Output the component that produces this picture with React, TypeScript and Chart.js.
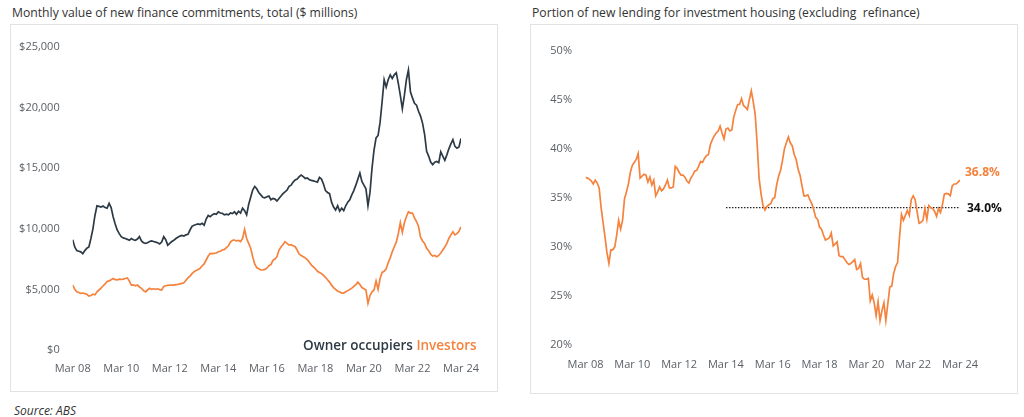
import React, { useEffect, useRef } from "react";
import { Chart, registerables } from "chart.js";

Chart.register(...registerables);

// ---------- DATA ----------
const tickLabels = ["Mar 08", "Mar 10", "Mar 12", "Mar 14", "Mar 16", "Mar 18", "Mar 20", "Mar 22", "Mar 24"];

// Monthly, Mar 2008 .. Mar 2024 ($ millions)
const ownerOccupiers = [
  9100, 8500, 8200, 8150, 8100, 7950, 8200, 8400, 8500, 9200, 10000, 11100,
  11900, 11850, 11800, 11880, 11750, 11700, 12100, 11750, 11000, 10400, 9900, 9600,
  9350, 9250, 9200, 9130, 9050, 9200, 9100, 9050, 9150, 9350, 9000, 8850,
  8800, 8850, 8950, 9000, 8950, 8900, 8850, 8750, 8900, 9350, 9100, 8650,
  8800, 8950, 9050, 9200, 9300, 9400, 9450, 9400, 9500, 9550, 9900, 10200,
  10300, 10350, 10400, 10350, 10450, 10300, 10800, 11100, 11000, 11150, 11250, 11200,
  11400, 11300, 11280, 11150, 11200, 11150, 11300, 11250, 11400, 11200, 11450, 11300,
  11700, 11500, 11150, 12000, 12600, 13200, 13500, 13300, 13000, 12800, 12600, 12550,
  12650, 12700, 12400, 12500, 12450, 12300, 12500, 12700, 12900, 13050, 13200, 13500,
  13600, 13850, 14025, 14100, 14300, 14440, 14300, 14150, 14200, 14050, 14000, 13950,
  13900, 13850, 14240, 14100, 13700, 13150, 13000, 12900, 12200, 11800, 11550, 11900,
  11450, 11700, 11500, 11900, 12200, 12400, 12800, 13150, 13600, 14100, 14600, 13900,
  13600, 13300, 11900, 13000, 15000, 16500, 17500, 17700, 18800, 20500, 22300, 21700,
  22300, 22700, 22400, 22700, 22880, 22000, 21000, 19900, 21000, 22300, 23100, 21300,
  20800, 20350, 20200, 19700, 19300, 18700, 17800, 16400, 16000, 15500, 15300, 15500,
  15550, 15450, 16350, 16000, 15650, 16100, 16600, 17000, 17350, 16800, 16650, 16750,
  17450,
];

const investors = [
  5360, 5000, 4800, 4750, 4680, 4700, 4650, 4600, 4450, 4500, 4600, 4550,
  4800, 4950, 5100, 5280, 5450, 5650, 5700, 5800, 5900, 5800, 5780, 5850,
  5830, 5850, 5900, 5950, 5700, 5350, 5380, 5300, 5360, 5200, 5090, 4900,
  4800, 4950, 5090, 5000, 5050, 5000, 5050, 4980, 4950, 5250, 5300, 5330,
  5360, 5350, 5360, 5400, 5420, 5450, 5500, 5550, 5750, 5950, 6100, 6300,
  6460, 6550, 6650, 6740, 6950, 7100, 7425, 7750, 7975, 7950, 7975, 8000,
  8110, 8150, 8250, 8300, 8450, 8600, 8900, 9050, 9075, 9000, 9050, 8950,
  9200, 9955, 9200, 8800, 8400, 7700, 7100, 6800, 6700, 6600, 6600, 6650,
  6750, 6950, 7050, 7400, 7500, 7700, 8250, 8500, 8700, 8935, 8800, 8660,
  8700, 8600, 8520, 8250, 7900, 7800, 7700, 7600, 7450, 7250, 7000, 6850,
  6700, 6500, 6400, 6300, 6150, 6000, 5800, 5600, 5350, 5150, 5000, 4850,
  4800, 4700, 4700, 4800, 4900, 5000, 5100, 5250, 5400, 5600, 5400, 5150,
  5050, 4950, 3850, 4500, 4800, 4950, 5700, 5000, 5900, 6400, 6500, 6700,
  7200, 7600, 8100, 8500, 8900, 9600, 10500, 9700, 10500, 11000, 11410, 11300,
  11300, 10900, 10600, 10200, 9300, 9000, 8800, 8400, 8200, 7900, 7750, 7800,
  7700, 7800, 8000, 8250, 8500, 8800, 9200, 9500, 9760, 9500, 9600, 9800,
  10170,
];

// Monthly investor share of new lending (%), Mar 2008 .. Mar 2024
const investorShare = [
  37.1, 37.0, 36.9, 36.7, 36.4, 36.8, 36.5, 36.0, 34.0, 32.5, 31.0, 29.4,
  28.3, 29.7, 29.7, 30.0, 31.2, 32.7, 31.8, 32.7, 34.9, 35.6, 36.4, 37.6,
  38.3, 38.6, 38.9, 39.5, 37.0, 37.2, 37.4, 37.3, 36.6, 37.1, 36.3, 36.8,
  35.2, 35.6, 36.1, 35.7, 35.9, 36.3, 36.8, 36.0, 36.0, 36.1, 38.2, 38.0,
  37.6, 37.3, 37.3, 37.1, 36.7, 36.5, 37.0, 37.3, 37.7, 37.8, 38.2, 38.7,
  38.6, 39.0, 39.3, 39.4, 40.4, 40.9, 41.3, 41.6, 41.8, 42.3, 41.6, 41.0,
  42.0, 42.1, 41.8, 41.9, 43.2, 43.9, 44.5, 44.5, 45.1, 44.4, 44.2, 44.0,
  45.0, 45.9, 44.8, 43.5, 40.5, 37.0, 35.4, 34.2, 33.75, 34.1, 34.3, 34.4,
  34.9, 35.0, 36.3, 37.2, 37.8, 38.8, 40.0, 40.6, 41.2, 40.6, 40.3, 39.4,
  38.9, 37.9, 37.3, 36.2, 35.2, 35.2, 35.3, 34.8, 34.4, 33.8, 33.0, 32.8,
  32.0, 31.8, 31.2, 30.7, 30.8, 30.9, 31.4, 30.1, 30.3, 30.5, 29.1, 29.0,
  29.0, 28.7, 28.4, 28.2, 28.3, 28.5, 28.7, 27.7, 27.8, 28.3, 26.9, 26.7,
  26.7, 26.8, 24.5, 25.1, 24.3, 23.0, 24.4, 22.5, 23.5, 24.3, 22.5, 24.2,
  25.9, 26.0, 27.3, 28.0, 28.4, 31.0, 33.3, 32.7, 33.2, 33.7, 33.2, 34.8,
  35.2, 34.8, 33.6, 32.4, 32.5, 32.7, 33.9, 32.8, 34.2, 34.0, 33.9, 33.6,
  33.1, 33.9, 33.5, 34.3, 35.4, 35.45, 35.4, 35.2, 36.2, 36.4, 36.4, 36.6,
  36.8,
];

const averageShare = 34.0;
const averageFromMonth = 72; // Mar 14
const averageToMonth = 192; // Mar 24
const latestShareLabel = "36.8%";
const averageShareLabel = "34.0%";

// ---------- STYLE ----------
const FONT = "'Open Sans', 'DejaVu Sans', sans-serif";
const ORANGE = "#f5823d";
const DARK = "#2c3a46";
const TICK = "#5b6066";

const toPoints = (arr: number[]) => arr.map((v, i) => ({ x: i, y: v }));

const xAxis = (pad: number, height: number) => ({
  type: "linear" as const,
  min: 0,
  max: 192,
  grid: { display: false, drawTicks: false },
  border: { display: false },
  ticks: {
    stepSize: 24,
    autoSkip: false,
    maxRotation: 0,
    padding: pad,
    color: TICK,
    font: { family: FONT, size: 11 },
    callback: (v: number) => tickLabels[Math.round(v / 24)] ?? "",
  },
  afterFit: (s: any) => {
    s.height = height;
  },
});

function LeftChart() {
  const ref = useRef<HTMLCanvasElement>(null);
  useEffect(() => {
    const chart = new Chart(ref.current!, {
      type: "line",
      data: {
        datasets: [
          {
            label: "Owner occupiers",
            data: toPoints(ownerOccupiers),
            borderColor: DARK,
            borderWidth: 1.7,
            pointRadius: 0,
            tension: 0,
          },
          {
            label: "Investors",
            data: toPoints(investors),
            borderColor: ORANGE,
            borderWidth: 1.7,
            pointRadius: 0,
            tension: 0,
          },
        ],
      },
      options: {
        animation: false,
        responsive: false,
        devicePixelRatio: 1,
        layout: { padding: { left: 0, right: 37, top: 23, bottom: 0 } },
        plugins: { legend: { display: false }, tooltip: { enabled: false } },
        scales: {
          x: xAxis(12, 42),
          y: {
            min: 0,
            max: 25000,
            grid: { display: false, drawTicks: false },
            border: { display: false },
            ticks: {
              stepSize: 5000,
              padding: 13,
              color: TICK,
              font: { family: FONT, size: 11 },
              callback: (v: number) => "$" + v.toLocaleString("en-US"),
            },
            afterFit: (s: any) => {
              s.width = 62.7;
            },
          },
        },
      },
    } as any);
    return () => chart.destroy();
  }, []);
  return <canvas ref={ref} width={488} height={368} style={{ position: "absolute", left: 0, top: 0 }} />;
}

const endLabels = {
  id: "endLabels",
  afterDatasetsDraw(chart: any) {
    const { ctx, chartArea, scales } = chart;
    ctx.save();
    ctx.font = `bold 12px ${FONT}`;
    ctx.textBaseline = "middle";
    ctx.textAlign = "left";
    ctx.fillStyle = ORANGE;
    ctx.fillText(
      latestShareLabel,
      chartArea.right + 5,
      scales.y.getPixelForValue(investorShare[investorShare.length - 1]) - 7.5
    );
    ctx.fillStyle = "#111111";
    ctx.fillText(averageShareLabel, chartArea.right + 7, scales.y.getPixelForValue(averageShare) + 1.5);
    ctx.restore();
  },
};

function RightChart() {
  const ref = useRef<HTMLCanvasElement>(null);
  useEffect(() => {
    const chart = new Chart(ref.current!, {
      type: "line",
      data: {
        datasets: [
          {
            label: "Investor share",
            data: toPoints(investorShare),
            borderColor: ORANGE,
            borderWidth: 1.7,
            pointRadius: 0,
            tension: 0,
          },
          {
            label: "Average",
            data: [
              { x: averageFromMonth, y: averageShare },
              { x: averageToMonth, y: averageShare },
            ],
            borderColor: "#222222",
            borderWidth: 1.3,
            borderDash: [1.5, 1.5],
            pointRadius: 0,
          },
        ],
      },
      options: {
        animation: false,
        responsive: false,
        devicePixelRatio: 1,
        layout: { padding: { left: 0, right: 58, top: 26.5, bottom: 0 } },
        plugins: { legend: { display: false }, tooltip: { enabled: false } },
        scales: {
          x: xAxis(13, 49),
          y: {
            min: 20,
            max: 50,
            grid: { display: false, drawTicks: false },
            border: { display: false },
            ticks: {
              stepSize: 5,
              padding: 13.5,
              color: TICK,
              font: { family: FONT, size: 11 },
              callback: (v: number) => v + "%",
            },
            afterFit: (s: any) => {
              s.width = 55.5;
            },
          },
        },
      },
      plugins: [endLabels],
    } as any);
    return () => chart.destroy();
  }, []);
  return <canvas ref={ref} width={488} height={370} style={{ position: "absolute", left: 0, top: 0 }} />;
}

export default function App() {
  const title: React.CSSProperties = {
    position: "absolute",
    top: 4,
    fontFamily: FONT,
    fontSize: 12.2,
    color: "#333",
    whiteSpace: "pre",
    lineHeight: "18px",
  };
  const box: React.CSSProperties = {
    position: "absolute",
    top: 24,
    width: 488,
    boxSizing: "border-box",
    border: "1px solid #e2e2e2",
  };
  return (
    <div
      style={{
        position: "absolute",
        left: 0,
        top: 0,
        width: 1024,
        height: 417,
        background: "#fff",
        overflow: "hidden",
        fontFamily: FONT,
      }}
    >
      <div style={{ ...title, left: 12 }}>Monthly value of new finance commitments, total ($ millions)</div>
      <div style={{ ...title, left: 532 }}>Portion of new lending for investment housing (excluding  refinance)</div>

      <div style={{ ...box, left: 10, height: 368 }}>
        <div style={{ position: "absolute", left: -1, top: -1, width: 488, height: 368 }}>
          <LeftChart />
          <div
            style={{
              position: "absolute",
              left: 293,
              top: 312,
              fontSize: 13.5,
              fontWeight: 600,
              whiteSpace: "nowrap",
              lineHeight: "18px",
            }}
          >
            <span style={{ color: DARK }}>Owner occupiers</span> <span style={{ color: ORANGE }}>Investors</span>
          </div>
        </div>
      </div>

      <div style={{ ...box, left: 530, height: 370 }}>
        <div style={{ position: "absolute", left: -1, top: -1, width: 488, height: 370 }}>
          <RightChart />
        </div>
      </div>

      <div
        style={{
          position: "absolute",
          left: 14,
          top: 403,
          fontSize: 12,
          fontStyle: "italic",
          color: "#333",
          lineHeight: "16px",
        }}
      >
        Source: ABS
      </div>
    </div>
  );
}
